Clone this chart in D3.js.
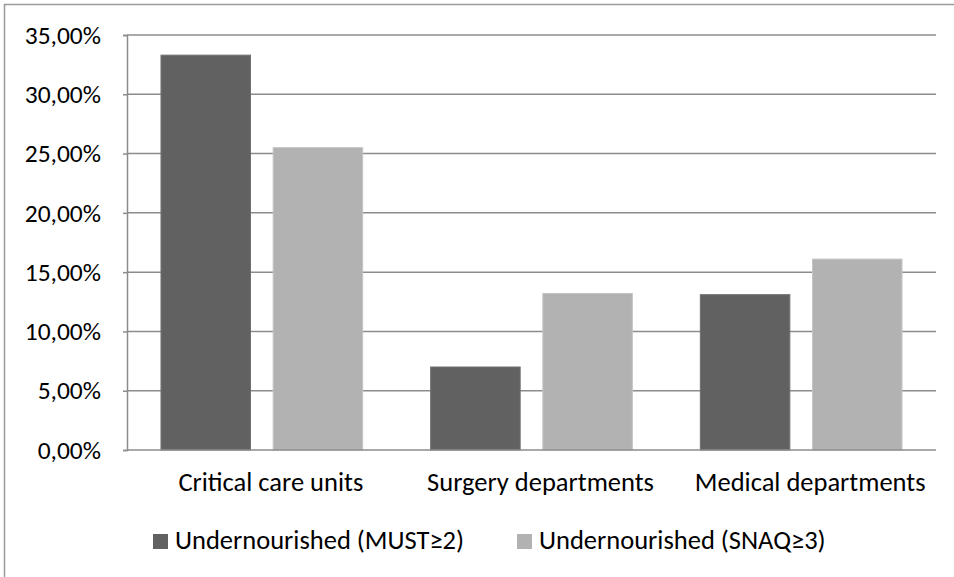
<!DOCTYPE html>
<meta charset="utf-8">
<head>
<style>
  body { margin: 0; background: #fff; }
  text { font-family: Calibri, Carlito, Lato, sans-serif; fill: #000; }
</style>
</head>
<svg width="954" height="577"></svg>
<script src="https://cdn.jsdelivr.net/npm/d3@7"></script>
<script>

// data
var categories = ["Critical care units", "Surgery departments", "Medical departments"];
var seriesNames = ["Undernourished (MUST\u22652)", "Undernourished (SNAQ\u22653)"];
var mustValues = [33.3, 7.0, 13.1];
var snaqValues = [25.5, 13.2, 16.1];
var yTicks = [0, 5, 10, 15, 20, 25, 30, 35];
var colors = ["#616161", "#b2b2b2"];
var borders = ["#707070", "#c4c4c4"];

var svg = d3.select("svg");
var tickFont = "25.5px";
var labelFont = "26.5px";

// outer chart border (runs off the right/bottom edge)
svg.append("rect")
   .attr("x", 4.5).attr("y", 4.5)
   .attr("width", 1000).attr("height", 1000)
   .attr("fill", "none")
   .attr("stroke", "#9a9a9a")
   .attr("stroke-width", 1.5);

var plotLeft = 127, plotRight = 936, plotTop = 35, plotBottom = 450;

var x0 = d3.scaleBand().domain(categories).range([plotLeft, plotRight]);
var x1 = d3.scaleBand().domain([0, 1]).range([0, x0.bandwidth()])
           .paddingInner(0.202).paddingOuter(0.303);
var y = d3.scaleLinear().domain([0, 35]).range([plotBottom, plotTop]);

var fmt = function(v) { return d3.format(".2f")(v).replace(".", ",") + "%"; };

// gridlines
svg.append("g")
   .selectAll("line")
   .data(yTicks.slice(1))
   .enter().append("line")
   .attr("x1", plotLeft).attr("x2", plotRight)
   .attr("y1", function(d) { return y(d); })
   .attr("y2", function(d) { return y(d); })
   .attr("stroke", "#8c8c8c")
   .attr("stroke-width", 1.5);

// y axis
var yAxis = svg.append("g")
   .attr("transform", "translate(" + plotLeft + ",0)")
   .call(d3.axisLeft(y).tickValues(yTicks).tickFormat(fmt).tickSize(4).tickPadding(22));
yAxis.select(".domain").attr("stroke", "#8c8c8c").attr("stroke-width", 1.5);
yAxis.selectAll(".tick line").attr("stroke", "#8c8c8c").attr("stroke-width", 1.5);
yAxis.selectAll("text").attr("font-size", tickFont).attr("fill", "#000")
     .style("font-family", "Calibri, Carlito, Lato, sans-serif");

// bars
var rows = categories.map(function(c, i) { return { cat: c, vals: [mustValues[i], snaqValues[i]] }; });
var groups = svg.selectAll(".grp")
   .data(rows)
   .enter().append("g")
   .attr("class", "grp")
   .attr("transform", function(d) { return "translate(" + x0(d.cat) + ",0)"; });

groups.selectAll("rect")
   .data(function(d) { return d.vals; })
   .enter().append("rect")
   .attr("x", function(v, j) { return x1(j); })
   .attr("y", function(v) { return y(v); })
   .attr("width", x1.bandwidth())
   .attr("height", function(v) { return plotBottom - y(v); })
   .attr("fill", function(v, j) { return colors[j]; })
   .attr("stroke", function(v, j) { return borders[j]; })
   .attr("stroke-width", 1);

// x axis baseline
svg.append("line")
   .attr("x1", plotLeft).attr("x2", plotRight)
   .attr("y1", plotBottom).attr("y2", plotBottom)
   .attr("stroke", "#8c8c8c").attr("stroke-width", 1.5);

// category labels
svg.selectAll(".cat")
   .data(categories)
   .enter().append("text")
   .attr("class", "cat")
   .attr("x", function(d) { return x0(d) + x0.bandwidth() / 2 + 9; })
   .attr("y", 491)
   .attr("text-anchor", "middle")
   .attr("font-size", labelFont)
   .text(function(d) { return d; });

// legend
var legendX = [153, 517];
var legend = svg.selectAll(".leg")
   .data(seriesNames)
   .enter().append("g")
   .attr("class", "leg")
   .attr("transform", function(d, i) { return "translate(" + legendX[i] + ",534)"; });
legend.append("rect")
   .attr("width", 15).attr("height", 15)
   .attr("fill", function(d, i) { return colors[i]; });
legend.append("text")
   .attr("x", 22).attr("y", 14.5)
   .attr("font-size", labelFont)
   .text(function(d) { return d; });

</script>
